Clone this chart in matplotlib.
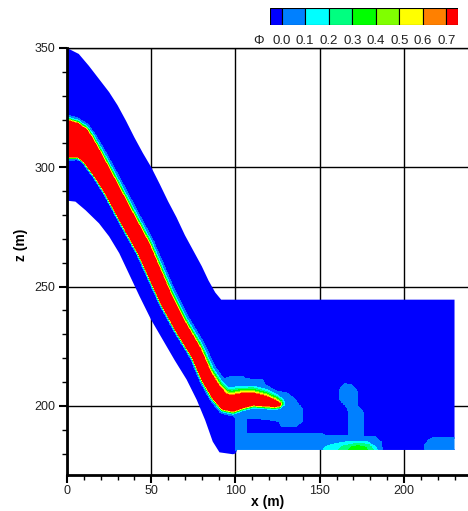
import matplotlib.pyplot as plt
import numpy as np
from matplotlib.path import Path
from matplotlib.patches import PathPatch
from matplotlib.ticker import MultipleLocator

plt.rcParams['font.family'] = ['Liberation Sans', 'DejaVu Sans']

# colour classes of phi (legend boxes between the labels)
phi_labels = ['0.0', '0.1', '0.2', '0.3', '0.4', '0.5', '0.6', '0.7']
phi_bounds = [-1.0, 0.001, 0.1, 0.2, 0.3, 0.4, 0.5, 0.6, 0.7, 2.0]
level_colors = ['#0000ff', '#0080ff', '#00ffff', '#00ff80', '#00ff00',
                '#80ff00', '#ffff00', '#ff8000', '#ff0000']

# outline of the flow domain (m)
top_x = [0, 7, 13, 19, 25, 30, 35, 40, 45, 50, 55, 60, 65, 70, 75, 80, 84, 88, 91.5, 230]
top_z = [350, 347.5, 342.5, 337, 331.5, 326, 319.5, 312.5, 306, 300, 293, 285.7,
         279, 271.5, 265, 258.5, 252.5, 247.5, 244.5, 244.5]
bot_x = [0, 5, 11, 19, 25, 31, 36, 43, 50, 57, 64, 71, 77, 82, 86.5, 90.5, 98.5, 100, 101, 230]
bot_z = [286, 285.6, 282, 276.5, 271, 264, 256.5, 246, 236, 227.5, 219, 211, 202.5,
         194, 185, 180.5, 179.7, 180, 181.5, 181.5]

# dense current: centre line, red core half width, fringe widths (m)
plume_x = [0, 4, 7.6, 10.5, 13.5, 19.4, 25.4, 35, 45.6, 58.5, 67, 76.6, 82.6, 88.5,
           93.5, 98.4, 103.4, 110.3, 117.2, 123.2, 126]
plume_z = [311.8, 311.4, 310.5, 308.6, 305.9, 299.3, 292, 279.3, 265.6, 245, 233.5,
           222.2, 212.4, 205.5, 201.6, 201, 202, 202.7, 202, 200.9, 200.5]
plume_core = [7.7, 7.2, 6.4, 5.6, 4.9, 4.2, 3.8, 3.7, 3.6, 3.3, 3.0, 2.8, 2.8, 2.9,
              3.0, 3.1, 2.8, 2.3, 1.9, 1.2, 0.4]
fringe_up = [2.2, 2.3, 2.4, 2.6, 2.8, 3.0, 3.1, 3.2, 3.2, 3.2, 3.3, 3.5, 3.9, 4.6,
             5.2, 5.5, 5.5, 5.2, 4.8, 4.4, 4.2]
fringe_low = [1.0, 1.0, 1.0, 1.0, 1.0, 1.0, 1.0, 1.0, 1.0, 1.1, 1.1, 1.2, 1.4, 1.7,
              2.0, 2.1, 2.1, 2.1, 2.1, 2.1, 2.1]
phi_max = 0.75

# dilute patches near the bed
halo_x = [90, 92.5, 98, 104.3, 106.3, 116.2, 118.6, 124, 130.1, 135.1, 139.6, 139.6,
          136, 127.2, 126.1, 119.2, 106.3, 100.4, 95, 90]
halo_z = [205, 211.3, 212.2, 212.2, 211, 210.8, 206.9, 206, 205.5, 202.7, 198.5, 193.6,
          191.5, 191.5, 193.6, 194.3, 195, 195, 198, 203]
strip_x = [100, 106.4, 106.4, 151, 153, 183, 186.6, 187, 100]
strip_z = [199, 199, 188.5, 188.5, 187.4, 187, 184.5, 181.5, 181.5]
finger_x = [164.5, 162, 162, 165.6, 167.6, 167.6, 175.8, 175.5, 172.4, 172, 169]
finger_z = [209, 207, 202.7, 199.9, 197.4, 186, 186, 197.4, 199.9, 206.2, 208.6]
corner_x = [212.3, 212.3, 214.3, 217.3, 230, 230]
corner_z = [181.5, 183.2, 185.3, 186.7, 186.7, 181.5]
cyan_x = [151.9, 153.9, 159.8, 167.8, 177.7, 182.6, 184.5]
cyan_z = [181.5, 183.2, 184.2, 184.9, 184.9, 183.3, 181.5]
spring_x = [161, 164, 172, 179, 182]
spring_z = [181.5, 183.3, 184.2, 183.9, 181.5]
green_x = [167, 169, 172.5, 176.5, 178.5]
green_z = [181.5, 182.8, 183.4, 183, 181.5]
patches = [(halo_x, halo_z, 0.05), (strip_x, strip_z, 0.05), (finger_x, finger_z, 0.05),
           (corner_x, corner_z, 0.05), (cyan_x, cyan_z, 0.15),
           (spring_x, spring_z, 0.25), (green_x, green_z, 0.35)]

# build the phi field
gx = np.arange(0, 231, 0.35)
gz = np.arange(177, 351, 0.35)
X, Z = np.meshgrid(gx, gz)
phi = np.zeros_like(X)
for i in range(len(plume_x) - 1):
    x0, z0 = plume_x[i], plume_z[i]
    dx, dz = plume_x[i + 1] - x0, plume_z[i + 1] - z0
    t = np.clip(((X - x0) * dx + (Z - z0) * dz) / (dx * dx + dz * dz), 0, 1)
    d = np.hypot(X - x0 - t * dx, Z - z0 - t * dz)
    side = dx * (Z - z0) - dz * (X - x0)
    core = plume_core[i] + t * (plume_core[i + 1] - plume_core[i])
    fu = fringe_up[i] + t * (fringe_up[i + 1] - fringe_up[i])
    fl = fringe_low[i] + t * (fringe_low[i + 1] - fringe_low[i])
    s = (d - core) / np.where(side > 0, fu, fl)
    phi = np.maximum(phi, phi_max * np.clip(1 - s, 0, 1) ** 2)

pts = np.column_stack([X.ravel(), Z.ravel()])
for px, pz, val in patches:
    inside = Path(np.column_stack([px, pz])).contains_points(pts).reshape(X.shape)
    phi = np.where(inside, np.maximum(phi, val), phi)

fig = plt.figure(figsize=(4.68, 5.11), dpi=100)
ax = fig.add_axes([67 / 468, 36 / 511, 401 / 468, 427 / 511])

dom = PathPatch(Path(np.column_stack([top_x + bot_x[::-1], top_z + bot_z[::-1]])),
                facecolor='none', edgecolor='none')
ax.add_patch(dom)
cs = ax.contourf(X, Z, phi, levels=phi_bounds, colors=level_colors, zorder=1)
cs.set_clip_path(dom)

ax.set_xlim(0, 238)
ax.set_ylim(171, 350)
ax.set_xticks([0, 50, 100, 150, 200])
ax.set_yticks([200, 250, 300, 350])
ax.xaxis.set_minor_locator(MultipleLocator(10))
ax.yaxis.set_minor_locator(MultipleLocator(10))
ax.grid(True, color='black', linewidth=1.0)
ax.set_axisbelow(True)
ax.spines['right'].set_visible(False)
ax.spines['top'].set_linewidth(1.0)
ax.spines['left'].set_linewidth(2.0)
ax.spines['bottom'].set_linewidth(2.0)
ax.tick_params(which='major', length=5.5, width=1.5, labelsize=9, labelcolor='#222222')
ax.tick_params(which='minor', length=3.5, width=1.0)
ax.tick_params(axis='x', which='major', pad=2)
ax.tick_params(axis='y', which='major', pad=3)

ax.set_xlabel('x (m)', fontsize=10, fontweight='bold', va='center')
ax.xaxis.set_label_coords(0.5, -0.063)
ax.set_ylabel('z (m)', fontsize=10, fontweight='bold', va='center')
ax.yaxis.set_label_coords(-0.115, 0.54)

# legend bar
cax = fig.add_axes([270 / 468, 1 - 25 / 511, 188 / 468, 17 / 511])
n = len(level_colors)
lefts = [0] + [i - 0.5 for i in range(1, n)]
widths = [0.5] + [1.0] * (n - 2) + [0.5]
cax.bar(lefts, 1, width=widths, align='edge', color=level_colors,
        edgecolor='black', linewidth=0.8)
cax.set_xlim(0, n - 1)
cax.set_ylim(0, 1)
cax.axis('off')
for i, lab in enumerate(phi_labels):
    cax.text(i + 0.5, -0.94, lab, ha='center', va='center', fontsize=9.5, color='#222222')
cax.text(-0.5, -0.94, 'Φ', ha='center', va='center', fontsize=9.5, color='#222222')

fig.savefig('out.png', dpi=100)
